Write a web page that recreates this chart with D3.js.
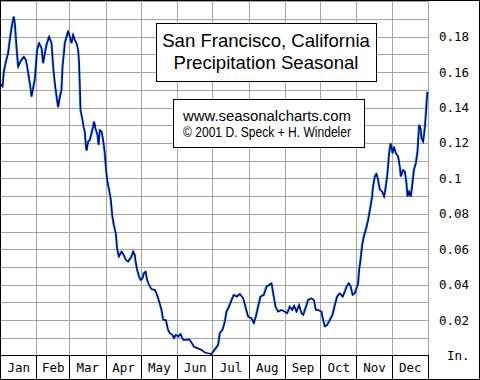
<!DOCTYPE html>
<html>
<head>
<meta charset="utf-8">
<script src="https://cdn.jsdelivr.net/npm/d3@7.9.0/dist/d3.min.js"></script>
<style>
    html, body { margin: 0; padding: 0; background: #fff; }
    svg { display: block; }
</style>
</head>
<body>
<div id="chart"></div>
<script>
// San Francisco precipitation, seasonal pattern (inches, by day of year)
var months = ['Jan', 'Feb', 'Mar', 'Apr', 'May', 'Jun', 'Jul', 'Aug', 'Sep', 'Oct', 'Nov', 'Dec']
var monthDays = [31, 28, 31, 30, 31, 30, 31, 31, 30, 31, 30, 31]
var yTicks = [0.02, 0.04, 0.06, 0.08, 0.1, 0.12, 0.14, 0.16, 0.18]
var titleLines = ['San Francisco, California', 'Precipitation Seasonal']
var creditLines = ['www.seasonalcharts.com', '\u00a9 2001 D. Speck + H. Windeler']

var days = [
    0.4, 2.3, 3.4, 5.1, 7.1, 8.5, 10.0, 10.8, 11.9, 12.8, 14.2, 15.6, 17.1, 18.5, 20.5, 22.2, 23.3, 24.7,
    26.2, 27.0, 28.4, 29.8, 30.7, 31.8, 33.5, 35.6, 36.9, 38.4, 39.8, 42.0, 44.1, 45.5, 46.9, 48.4, 49.7,
    51.2, 52.6, 53.5, 54.6, 55.4, 56.9, 58.2, 59.7, 61.1, 62.5, 64.0, 65.4, 66.8, 67.6, 68.2, 68.8, 70.5,
    71.6, 72.5, 73.3, 73.9, 75.3, 76.8, 78.2, 79.6, 80.4, 81.9, 83.3, 84.2, 85.3, 86.7, 88.1, 89.5, 90.4,
    91.5, 93.2, 94.7, 95.8, 97.2, 98.9, 100.0, 101.5, 103.8, 105.7, 107.5, 109.4, 112.3, 113.7, 115.1,
    116.0, 117.1, 118.8, 120.0, 121.7, 122.8, 124.3, 125.6, 127.3, 129.4, 132.2, 134.1, 135.9, 137.9,
    139.3, 141.6, 143.5, 145.0, 147.3, 148.4, 150.1, 152.1, 154.1, 156.3, 159.2, 161.4, 163.5, 165.4,
    168.3, 172.0, 174.8, 177.6, 180.5, 181.9, 184.2, 186.2, 187.6, 189.9, 191.9, 193.3, 195.5, 197.6,
    199.6, 201.9, 204.7, 207.5, 209.8, 211.7, 214.6, 216.6, 218.3, 220.3, 222.3, 225.1, 227.4, 229.7,
    231.7, 233.1, 235.1, 237.3, 240.2, 243.0, 245.0, 247.3, 249.3, 251.0, 253.0, 255.2, 257.3, 258.7,
    260.7, 262.9, 265.8, 267.8, 269.5, 271.4, 274.3, 275.7, 277.2, 279.1, 281.4, 283.7, 285.7, 287.6,
    290.0, 292.3, 294.2, 295.7, 297.6, 299.3, 300.8, 302.7, 304.2, 305.6, 306.4, 307.6, 309.0, 310.4,
    312.1, 314.1, 316.1, 317.5, 318.3, 319.8, 321.2, 322.6, 324.1, 326.0, 327.7, 329.2, 330.6, 332.0,
    333.2, 334.9, 336.0, 337.7, 339.7, 341.1, 342.0, 343.9, 345.4, 346.8, 347.7, 349.0, 350.5, 351.9,
    353.1, 354.8, 356.2, 357.6, 358.8, 359.6, 361.0, 362.4, 363.3, 364.1, 364.7
]
var precip = [
    0.1533, 0.1518, 0.1601, 0.1657, 0.1708, 0.1781, 0.1849, 0.1879, 0.1913, 0.1877, 0.1744, 0.1631,
    0.1652, 0.1669, 0.1687, 0.1669, 0.1631, 0.1574, 0.1509, 0.1461, 0.1509, 0.1556, 0.1631, 0.1725,
    0.1763, 0.1735, 0.1650, 0.1706, 0.1753, 0.1800, 0.1763, 0.1631, 0.1537, 0.1461, 0.1401, 0.1461,
    0.1499, 0.1631, 0.1706, 0.1763, 0.1800, 0.1828, 0.1800, 0.1763, 0.1810, 0.1781, 0.1763, 0.1725,
    0.1650, 0.1527, 0.1386, 0.1330, 0.1285, 0.1264, 0.1189, 0.1156, 0.1207, 0.1217, 0.1255, 0.1292,
    0.1320, 0.1273, 0.1245, 0.1189, 0.1273, 0.1264, 0.1217, 0.1142, 0.1066, 0.0991, 0.0935, 0.0878,
    0.0793, 0.0737, 0.0690, 0.0605, 0.0558, 0.0586, 0.0567, 0.0539, 0.0530, 0.0558, 0.0586, 0.0567,
    0.0521, 0.0483, 0.0445, 0.0426, 0.0436, 0.0464, 0.0473, 0.0426, 0.0398, 0.0374, 0.0370, 0.0342,
    0.0304, 0.0257, 0.0200, 0.0200, 0.0144, 0.0125, 0.0116, 0.0097, 0.0116, 0.0106, 0.0121, 0.0088,
    0.0088, 0.0091, 0.0072, 0.0050, 0.0041, 0.0031, 0.0016, 0.0012, 0.0008, 0.0021, 0.0041, 0.0059,
    0.0125, 0.0144, 0.0191, 0.0247, 0.0276, 0.0313, 0.0342, 0.0332, 0.0347, 0.0323, 0.0267, 0.0219,
    0.0210, 0.0182, 0.0219, 0.0276, 0.0332, 0.0342, 0.0388, 0.0398, 0.0408, 0.0351, 0.0276, 0.0247,
    0.0257, 0.0247, 0.0238, 0.0276, 0.0257, 0.0280, 0.0247, 0.0285, 0.0238, 0.0229, 0.0267, 0.0313,
    0.0323, 0.0313, 0.0257, 0.0257, 0.0247, 0.0200, 0.0163, 0.0172, 0.0200, 0.0229, 0.0285, 0.0332,
    0.0351, 0.0332, 0.0360, 0.0388, 0.0408, 0.0388, 0.0342, 0.0351, 0.0379, 0.0408, 0.0483, 0.0539,
    0.0624, 0.0671, 0.0709, 0.0765, 0.0840, 0.0897, 0.0953, 0.1010, 0.1025, 0.0991, 0.0935, 0.0925,
    0.0897, 0.0953, 0.1029, 0.1142, 0.1198, 0.1142, 0.1179, 0.1142, 0.1123, 0.1066, 0.1010, 0.1047,
    0.1038, 0.0972, 0.0897, 0.0925, 0.0897, 0.0972, 0.1047, 0.1085, 0.1151, 0.1302, 0.1283, 0.1226,
    0.1207, 0.1283, 0.1358, 0.1443, 0.1488
]

;(function () {
    var W = 480, H = 380
    var plotR = 428, plotB = 355.5

    var svg = d3.select('#chart').append('svg')
        .attr('width', W)
        .attr('height', H)
        .attr('viewBox', '0 0 ' + W + ' ' + H)

    svg.append('rect').attr('width', W).attr('height', H).attr('fill', '#fff')

    var x = d3.scaleLinear().domain([0, 365]).range([0, plotR])
    var y = d3.scaleLinear().domain([0, 0.2]).range([plotB, 1.3])

    function px(v) { return Math.round(v) + 0.5 }

    // grid
    var grid = svg.append('g')
        .attr('stroke', '#a4a4a4')
        .attr('stroke-width', 1)
        .attr('shape-rendering', 'crispEdges')

    grid.selectAll('line.h')
        .data(d3.range(1, 21).map(function (i) { return i / 100 }))
        .join('line')
        .attr('class', 'h')
        .attr('x1', 0).attr('x2', plotR)
        .attr('y1', function (d) { return px(y(d)) })
        .attr('y2', function (d) { return px(y(d)) })

    var bounds = []
    var acc = 0
    monthDays.forEach(function (n) { acc += n; bounds.push(acc) })
    var starts = [0].concat(bounds.slice(0, -1))

    grid.selectAll('line.v')
        .data(bounds)
        .join('line')
        .attr('class', 'v')
        .attr('x1', function (d) { return px(x(d)) })
        .attr('x2', function (d) { return px(x(d)) })
        .attr('y1', 0).attr('y2', plotB)

    // data line: cyan edge under a dark blue stroke
    var line = d3.line()
        .x(function (d, i) { return x(days[i]) })
        .y(function (d) { return y(d) })

    svg.append('path')
        .datum(precip)
        .attr('d', line)
        .attr('fill', 'none')
        .attr('stroke', '#00a8b8')
        .attr('stroke-width', 1.2)
        .attr('transform', 'translate(-0.8,-0.4)')

    svg.append('path')
        .datum(precip)
        .attr('d', line)
        .attr('fill', 'none')
        .attr('stroke', '#0000a0')
        .attr('stroke-width', 1.5)

    // month row
    var axis = svg.append('g')
        .attr('stroke', '#000')
        .attr('shape-rendering', 'crispEdges')
    axis.append('line').attr('x1', 0).attr('x2', plotR + 1).attr('y1', plotB).attr('y2', plotB)
    axis.selectAll('line.m')
        .data(bounds)
        .join('line')
        .attr('class', 'm')
        .attr('x1', function (d) { return px(x(d)) })
        .attr('x2', function (d) { return px(x(d)) })
        .attr('y1', plotB).attr('y2', H)

    svg.append('g')
        .attr('font-family', '"DejaVu Sans Mono", monospace')
        .attr('font-size', 12.5)
        .attr('fill', '#000')
        .attr('text-anchor', 'middle')
        .selectAll('text')
        .data(months)
        .join('text')
        .attr('x', function (d, i) { return (x(starts[i]) + x(bounds[i])) / 2 + 0.5 })
        .attr('y', 372)
        .text(function (d) { return d })

    // right value labels
    var yl = svg.append('g')
        .attr('font-family', '"DejaVu Sans Mono", monospace')
        .attr('font-size', 12.5)
        .attr('fill', '#000')
    yl.selectAll('text')
        .data(yTicks)
        .join('text')
        .attr('x', 439)
        .attr('y', function (d) { return y(d) + 4.5 })
        .text(function (d) { return d3.format('.2~f')(d) })
    yl.append('text').attr('x', 447).attr('y', 359.5).text('In.')

    // title box
    svg.append('rect')
        .attr('x', 156.5).attr('y', 23.5).attr('width', 220).attr('height', 58)
        .attr('fill', '#fff').attr('stroke', '#000').attr('shape-rendering', 'crispEdges')
    svg.append('g')
        .attr('font-family', '"Liberation Sans", Arial, sans-serif')
        .attr('font-size', 18.6)
        .attr('text-anchor', 'middle')
        .selectAll('text')
        .data(titleLines)
        .join('text')
        .attr('x', 266)
        .attr('y', function (d, i) { return 46.5 + i * 22 })
        .text(function (d) { return d })

    // credit box
    svg.append('rect')
        .attr('x', 173.5).attr('y', 99.5).attr('width', 191).attr('height', 48)
        .attr('fill', '#fff').attr('stroke', '#000').attr('shape-rendering', 'crispEdges')
    svg.append('g')
        .attr('font-family', '"Liberation Sans", Arial, sans-serif')
        .attr('font-size', 14)
        .attr('text-anchor', 'middle')
        .selectAll('text')
        .data(creditLines)
        .join('text')
        .attr('x', 267)
        .attr('y', function (d, i) { return 120.5 + i * 16.5 })
        .attr('textLength', 168)
        .attr('lengthAdjust', 'spacingAndGlyphs')
        .text(function (d) { return d })

    // outer frame
    svg.append('rect')
        .attr('x', 0.5).attr('y', 0.5).attr('width', W - 1).attr('height', H - 1)
        .attr('fill', 'none').attr('stroke', '#000').attr('shape-rendering', 'crispEdges')
})()
</script>
</body>
</html>
